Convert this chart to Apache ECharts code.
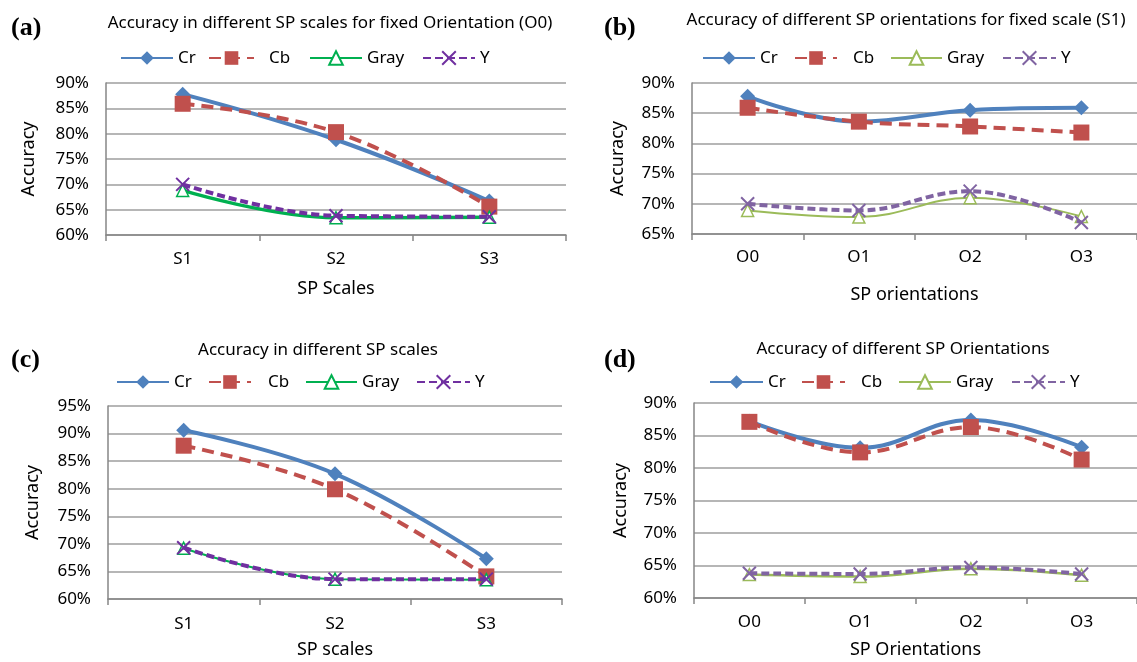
<!DOCTYPE html>
<html><head><meta charset="utf-8">
<script src="https://cdn.jsdelivr.net/npm/echarts@6/dist/echarts.min.js"></script>
<style>html,body{margin:0;padding:0;background:#fff;}#c{width:1137px;height:662px;}</style>
</head><body><div id="c"></div>
<script>
// ---------- DATA ----------
const scaleCategories = ['S1', 'S2', 'S3'];
const orientCategories = ['O0', 'O1', 'O2', 'O3'];
const seriesNames = ['Cr', 'Cb', 'Gray', 'Y'];

// (a) Accuracy in different SP scales for fixed Orientation (O0)
const aCr   = [87.8, 78.8, 66.7];
const aCb   = [85.9, 80.3, 65.6];
const aGray = [68.8, 63.4, 63.5];
const aY    = [70.0, 63.8, 63.6];
// (b) Accuracy of different SP orientations for fixed scale (S1)
const bCr   = [87.8, 83.6, 85.5, 85.9];
const bCb   = [85.9, 83.6, 82.8, 81.8];
const bGray = [68.9, 67.8, 71.0, 67.9];
const bY    = [70.0, 68.9, 72.1, 66.9];
// (c) Accuracy in different SP scales
const cCr   = [90.6, 82.7, 67.3];
const cCb   = [87.8, 79.9, 64.1];
const cGray = [69.2, 63.6, 63.5];
const cY    = [69.3, 63.6, 63.6];
// (d) Accuracy of different SP Orientations
const dCr   = [87.2, 83.1, 87.4, 83.2];
const dCb   = [87.1, 82.4, 86.3, 81.3];
const dGray = [63.6, 63.3, 64.5, 63.5];
const dY    = [63.8, 63.7, 64.7, 63.7];

// y-axis tick labels (percent)
const aTicks = [60, 65, 70, 75, 80, 85, 90];
const bTicks = [65, 70, 75, 80, 85, 90];
const cTicks = [60, 65, 70, 75, 80, 85, 90, 95];
const dTicks = [60, 65, 70, 75, 80, 85, 90];

const panelTitles = [
  'Accuracy in different SP scales for fixed Orientation (O0)',
  'Accuracy of different SP orientations for fixed scale (S1)',
  'Accuracy in different SP scales',
  'Accuracy of different SP Orientations'
];
const panelLabels = ['(a)', '(b)', '(c)', '(d)'];
const xAxisNames = ['SP Scales', 'SP orientations', 'SP scales', 'SP Orientations'];
const yAxisName = 'Accuracy';

// ---------- LAYOUT / STYLE ----------
const FONT = 'Noto Sans';
const BLUE = '#4F81BD', RED = '#C0504D';
const panels = [
  { cats: scaleCategories, vals: [aCr, aCb, aGray, aY], ticks: aTicks,
    grid: {left: 106, top: 83, width: 460, height: 152}, title: [330, 23], label: [11, 28],
    legendY: 58, legend: [[120, 52, 0], [208, 45, 10], [309, 52, 0], [422, 52, 0]],
    xMargin: 16, xNameGap: 45, yNameGap: 68, green: '#00B050', purple: '#7030A0', grayW: 3.5 },
  { cats: orientCategories, vals: [bCr, bCb, bGray, bY], ticks: bTicks,
    grid: {left: 692, top: 83, width: 445, height: 151}, title: [906, 20], label: [604, 28],
    legendY: 58, legend: [[702, 52, 0], [794, 42, 11], [890, 51, 0], [1002, 53, 0]],
    xMargin: 15, xNameGap: 52, yNameGap: 65, green: '#9BBB59', purple: '#8064A2', grayW: 2 },
  { cats: scaleCategories, vals: [cCr, cCb, cGray, cY], ticks: cTicks,
    grid: {left: 108, top: 406, width: 454, height: 193}, title: [318, 350], label: [11, 360],
    legendY: 382, legend: [[116, 52, 0], [208, 42, 12], [305, 51, 0], [416, 53, 0]],
    xMargin: 17, xNameGap: 42, yNameGap: 66, green: '#00B050', purple: '#7030A0', grayW: 2 },
  { cats: orientCategories, vals: [dCr, dCb, dGray, dY], ticks: dTicks,
    grid: {left: 694, top: 403, width: 443, height: 195}, title: [903, 349], label: [604, 360],
    legendY: 382, legend: [[709, 53, 0], [801, 43, 11], [898, 52, 0], [1011, 53, 0]],
    xMargin: 16, xNameGap: 43, yNameGap: 64, green: '#9BBB59', purple: '#8064A2', grayW: 2.5 }
];

const AXIS_GRAY = '#868686', GRID_GRAY = '#9e9e9e';
const CROSS = 'path://M0,0L10,10M10,0L0,10';

function seriesStyle(k, p) {
  if (k === 0) return { symbol: 'diamond', symbolSize: 15,
    lineStyle: {color: BLUE, width: 4}, itemStyle: {color: BLUE} };
  if (k === 1) return { symbol: 'rect', symbolSize: 16,
    lineStyle: {color: RED, width: 4, type: [12, 7]}, itemStyle: {color: RED} };
  if (k === 2) return { symbol: 'triangle', symbolSize: 12,
    lineStyle: {color: p.green, width: p.grayW},
    itemStyle: {color: '#ffffff', borderColor: p.green, borderWidth: 1.5} };
  return { symbol: CROSS, symbolSize: 13,
    lineStyle: {color: p.purple, width: 4, type: [8, 4]},
    itemStyle: {color: p.purple, borderColor: p.purple, borderWidth: 2} };
}

const grid = [], xAxis = [], yAxis = [], series = [], legend = [], graphic = [];
panels.forEach((p, i) => {
  grid.push(Object.assign({containLabel: false}, p.grid));
  xAxis.push({
    type: 'category', gridIndex: i, data: p.cats, boundaryGap: true,
    axisLine: {lineStyle: {color: AXIS_GRAY, width: 1.5}},
    axisTick: {show: true, length: 6, lineStyle: {color: AXIS_GRAY, width: 1.5}},
    axisLabel: {fontFamily: FONT, fontSize: 17, color: '#000', margin: p.xMargin},
    name: xAxisNames[i], nameLocation: 'middle', nameGap: p.xNameGap,
    nameTextStyle: {fontFamily: FONT, fontSize: 18, color: '#000'}
  });
  yAxis.push({
    type: 'value', gridIndex: i, min: p.ticks[0], max: p.ticks[p.ticks.length - 1], interval: 5,
    axisLine: {show: true, lineStyle: {color: AXIS_GRAY, width: 1.5}},
    axisTick: {show: false},
    splitLine: {show: true, lineStyle: {color: GRID_GRAY, width: 1.6}},
    axisLabel: {fontFamily: FONT, fontSize: 17, color: '#000', margin: 17, formatter: '{value}%'},
    name: yAxisName, nameLocation: 'middle', nameGap: p.yNameGap,
    nameTextStyle: {fontFamily: FONT, fontSize: 18, color: '#000'}
  });
  seriesNames.forEach((nm, k) => {
    const id = panelLabels[i] + '_' + nm;
    series.push(Object.assign({
      type: 'line', name: id, xAxisIndex: i, yAxisIndex: i, data: p.vals[k],
      smooth: 0.4, showSymbol: true, animation: false, emphasis: {disabled: true}, z: 2 + k
    }, seriesStyle(k, p)));
    const L = p.legend[k];
    legend.push({
      data: [id], left: L[0], top: p.legendY - 10, padding: 0, itemWidth: L[1], itemHeight: 17,
      selectedMode: false, formatter: n => n.split('_')[1],
      textStyle: {fontFamily: FONT, fontSize: 17, color: '#000', lineHeight: 20,
        padding: [0, 0, 0, L[2]]}
    });
  });
  graphic.push({type: 'text', x: p.title[0], y: p.title[1],
    style: {text: panelTitles[i], font: '17px "' + FONT + '"', fill: '#000',
      textAlign: 'center', textVerticalAlign: 'middle', align: 'center', verticalAlign: 'middle'}});
  graphic.push({type: 'text', x: p.label[0], y: p.label[1],
    style: {text: panelLabels[i], font: 'bold 26px "Liberation Serif"', fill: '#000',
      textAlign: 'left', textVerticalAlign: 'middle', align: 'left', verticalAlign: 'middle'}});
});

const chart = echarts.init(document.getElementById('c'), null, {renderer: 'canvas'});
chart.setOption({
  backgroundColor: '#ffffff', animation: false,
  grid, xAxis, yAxis, series, legend, graphic
});
</script>
</body></html>
